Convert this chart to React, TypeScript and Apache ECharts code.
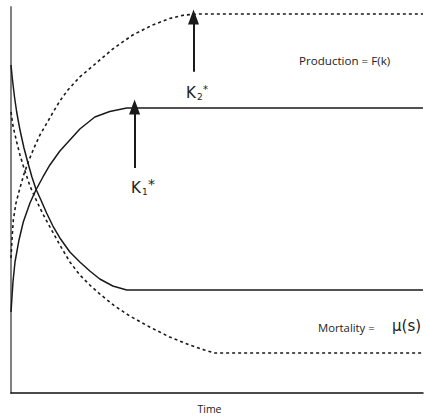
import React, { useEffect, useRef } from "react";
import * as echarts from "echarts";

// Solid production curve (K1*)
const prodSolidX = [0, 0.48, 0.97, 1.94, 2.98, 4.6, 6.05, 7.75, 9.44, 11.86, 14.29, 16.71, 20.34, 23.97, 28.09, 100];
const prodSolidY = [20.98, 28.76, 33.94, 39.64, 44.3, 49.22, 52.59, 55.96, 59.07, 62.69, 65.54, 68.39, 71.5, 72.93, 73.83, 73.83];
// Dashed production curve (K2*)
const prodDashX = [0, 0.24, 0.56, 1.21, 2.18, 3.15, 4.19, 5.57, 7.02, 8.72, 10.24, 11.86, 13.8, 16.71, 19.85, 24.7, 29.54, 34.38, 38.5, 42.13, 45.76, 100];
const prodDashY = [34.97, 39.64, 44.82, 49.22, 53.11, 56.74, 59.84, 63.47, 66.84, 69.95, 72.8, 75.65, 78.5, 81.87, 84.72, 89.12, 92.75, 95.34, 97.02, 97.93, 98.19, 98.19];
// Solid mortality curve
const mortSolidX = [0, 0.36, 0.85, 1.38, 2.18, 3.15, 4.12, 5.08, 6.05, 7.26, 8.64, 10.17, 11.86, 14.29, 16.71, 19.13, 21.55, 24.7, 28.09, 100];
const mortSolidY = [84.97, 81.09, 76.68, 72.8, 68.13, 63.47, 59.59, 55.96, 52.85, 50.0, 46.63, 43.26, 40.16, 36.53, 33.94, 31.61, 29.53, 27.72, 26.68, 26.68];
// Dashed mortality curve
const mortDashX = [0, 0.48, 1.38, 2.18, 2.98, 4.6, 6.22, 7.75, 9.44, 11.86, 14.29, 16.71, 19.13, 21.55, 25.18, 28.81, 33.66, 38.5, 43.34, 46.97, 49.39, 100];
const mortDashY = [72.8, 69.17, 65.03, 61.66, 58.81, 53.63, 49.74, 46.37, 43.01, 38.34, 33.94, 30.57, 27.98, 25.65, 22.54, 19.95, 17.1, 14.51, 12.44, 11.14, 10.36, 10.36];

// Arrows: [x, fromY, toY]
const arrowK1 = [30.0, 58.3, 74.1];
const arrowK2 = [44.3, 83.2, 97.4];

const zip = (xs: number[], ys: number[]) => xs.map((x, i) => [x, ys[i]]);

export default function App() {
  const ref = useRef<HTMLDivElement>(null);
  useEffect(() => {
    if (!ref.current) return;
    const chart = echarts.init(ref.current, null, { renderer: "svg" });
    const lineColor = "#1a1a1a";
    const font = "'Open Sans', 'Noto Sans', sans-serif";
    const kFont = "'DejaVu Sans', sans-serif";
    const arrowLine = (a: number[]) => ({
      silent: true,
      symbol: ["none", "triangle"],
      symbolSize: [11, 15],
      label: { show: false },
      lineStyle: { color: lineColor, type: "solid", width: 2 },
      data: [[{ coord: [a[0], a[1]] }, { coord: [a[0], a[2]] }]],
    });
    const kLabel = (x: number, y: number, sub: string, starSize: number) => ({
      type: "group",
      x,
      y,
      children: [
        { type: "text", x: 0, y: 0, style: { text: "K", font: `15px ${kFont}`, fill: "#222", textVerticalAlign: "middle" } },
        { type: "text", x: 11, y: 4, style: { text: sub, font: `9px ${kFont}`, fill: "#222", textVerticalAlign: "middle" } },
        { type: "text", x: 17, y: -4, style: { text: "*", font: `${starSize}px ${kFont}`, fill: "#222", textVerticalAlign: "middle" } },
      ],
    });
    const dashed = { color: lineColor, width: 1.6, type: [3, 3] };
    const solid = { color: lineColor, width: 1.5 };
    chart.setOption({
      animation: false,
      grid: { left: 11, right: 1, top: 7, bottom: 27, containLabel: false, outerBoundsMode: "none" },
      xAxis: {
        type: "value",
        min: 0,
        max: 100,
        name: "Time",
        nameLocation: "middle",
        nameGap: 10,
        nameTextStyle: { fontFamily: font, fontSize: 10.5, color: "#222", padding: [0, 15, 0, 0] },
        axisLine: { show: true, lineStyle: { color: "#111", width: 1.5 } },
        axisTick: { show: false },
        axisLabel: { show: false },
        splitLine: { show: false },
      },
      yAxis: {
        type: "value",
        min: 0,
        max: 100,
        axisLine: { show: true, lineStyle: { color: "#808080", width: 2 } },
        axisTick: { show: false },
        axisLabel: { show: false },
        splitLine: { show: false },
      },
      series: [
        {
          type: "line",
          name: "Production K1",
          data: zip(prodSolidX, prodSolidY),
          showSymbol: false,
          lineStyle: solid,
          markLine: arrowLine(arrowK1),
        },
        {
          type: "line",
          name: "Production K2",
          data: zip(prodDashX, prodDashY),
          showSymbol: false,
          lineStyle: dashed,
          markLine: arrowLine(arrowK2),
        },
        {
          type: "line",
          name: "Mortality 1",
          data: zip(mortSolidX, mortSolidY),
          showSymbol: false,
          lineStyle: solid,
        },
        {
          type: "line",
          name: "Mortality 2",
          data: zip(mortDashX, mortDashY),
          showSymbol: false,
          lineStyle: dashed,
        },
      ],
      graphic: [
        { type: "text", x: 299, y: 60, style: { text: "Production = F(k)", font: `11.6px ${font}`, fill: "#222", textVerticalAlign: "middle" } },
        { type: "text", x: 318, y: 327, style: { text: "Mortality =", font: `11.3px ${font}`, fill: "#222", textVerticalAlign: "middle" } },
        { type: "text", x: 392, y: 326, style: { text: "μ(s)", font: `15px ${kFont}`, fill: "#222", textVerticalAlign: "middle" } },
        kLabel(186, 93, "2", 10),
        kLabel(131, 188, "1", 14),
      ],
    });
    return () => chart.dispose();
  }, []);
  return <div ref={ref} style={{ position: "absolute", left: 0, top: 0, width: 424, height: 420 }} />;
}
